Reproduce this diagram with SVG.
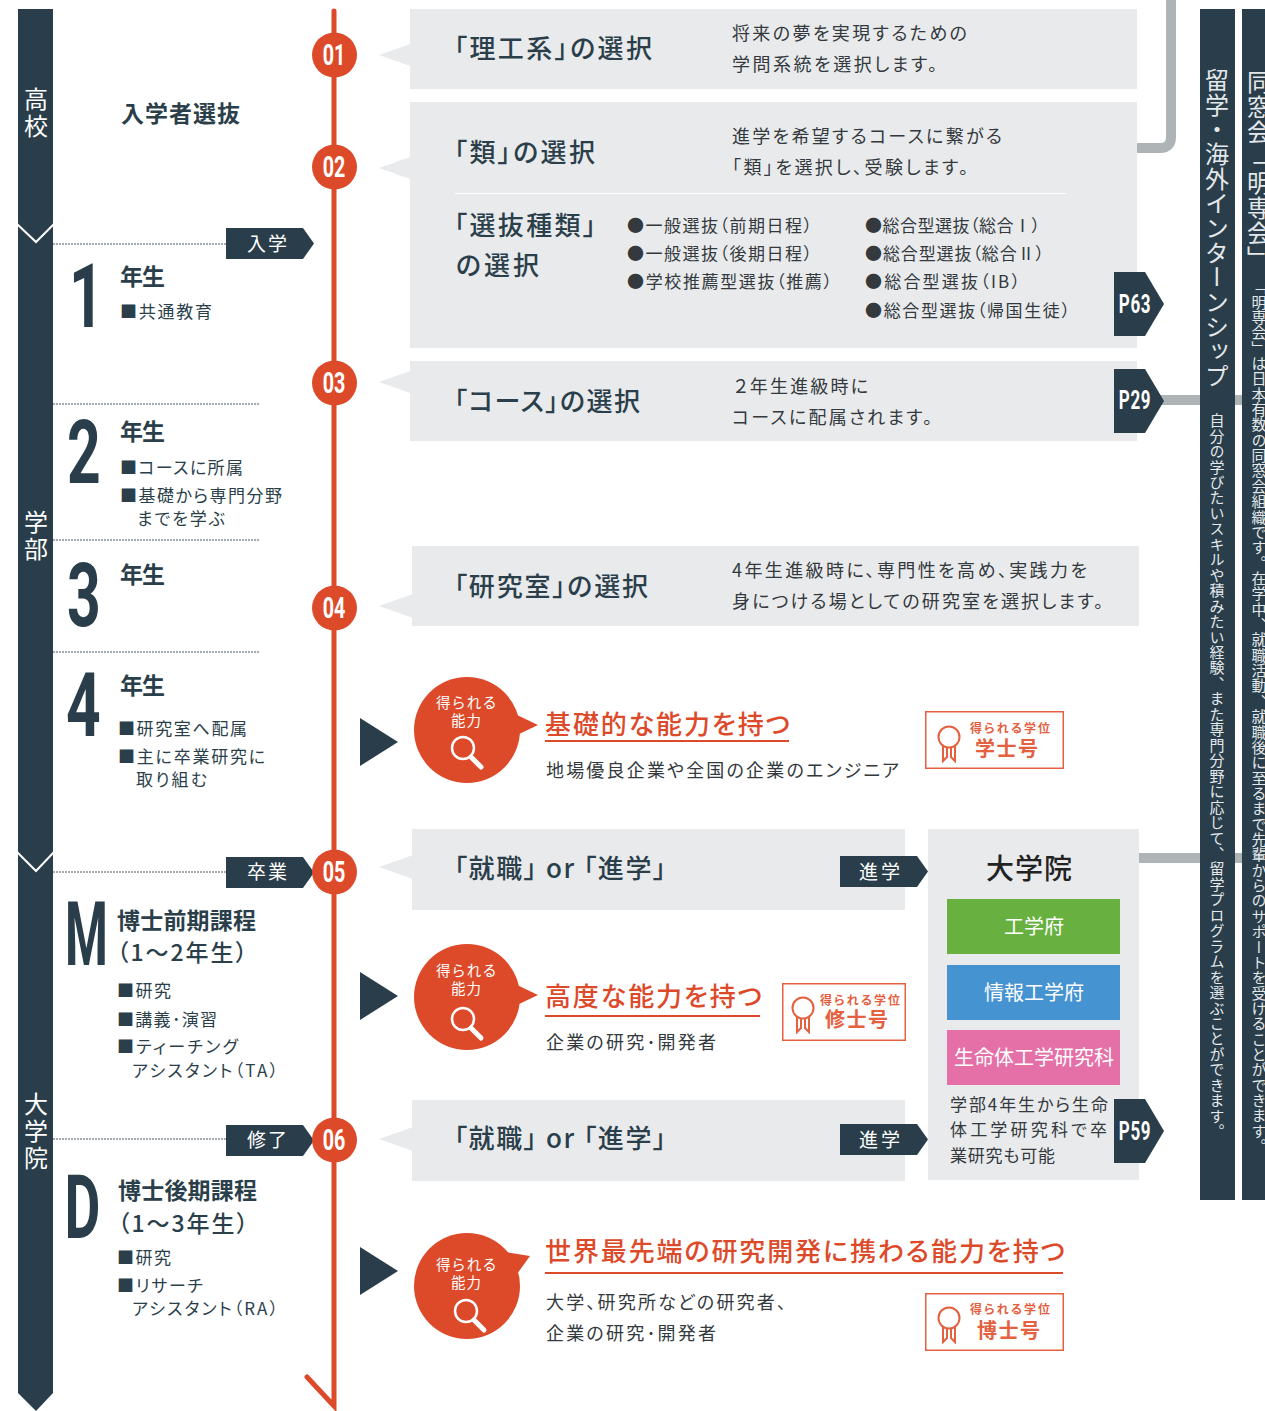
<svg xmlns="http://www.w3.org/2000/svg" width="1265" height="1411" viewBox="0 0 1265 1411">
<style>
text{font-family:"Noto Sans CJK JP","Noto Sans",sans-serif;fill:#2b3f4b;font-feature-settings:"palt"}
.panel{fill:#e9eaec}
.band{fill:#293e4a}
.h{font-size:26px;font-weight:500}
.d{font-size:18px;fill:#33393d}
.b{font-size:17px;fill:#33393d}
.y{font-size:23px;font-weight:700}
.y2{font-size:23px;font-weight:500}
.item{font-size:17px}
.big{font-family:"Roboto","Liberation Sans",sans-serif;font-weight:700;font-size:89px;fill:#293e4a}
.num{font-family:"Roboto","Liberation Sans",sans-serif;font-weight:700;font-size:29px;fill:#fff;text-anchor:middle}
.tag{font-size:19px;fill:#fff}
.red{fill:#dd4a2a}
.hl{font-size:26px;font-weight:500;fill:#dd4a2a}
.ul{stroke:#dd4a2a;stroke-width:2;fill:none}
.dots{stroke:#4a5a64;stroke-width:1;stroke-dasharray:2 1;fill:none}
.vt{writing-mode:vertical-rl;fill:#e4e8ea;font-feature-settings:normal}
.stage{writing-mode:vertical-rl;fill:#fff;font-size:24px;letter-spacing:3px;font-feature-settings:normal}
.deg{fill:#fff;stroke:#e4603f;stroke-width:1.5}
.ic{fill:none;stroke:#e4603f;stroke-width:2}
.mag{fill:none;stroke:#fff;stroke-width:2.500}
.cap{font-size:14.500px;fill:#fff}
.dt{font-size:12px;font-weight:700;fill:#e4603f}
.dn{font-size:20px;font-weight:700;fill:#e4603f}
.p{font-family:"Roboto","Liberation Sans",sans-serif;font-weight:700;font-size:25px;fill:#fff;text-anchor:middle}
.mc{font-size:20px;fill:#fff;text-anchor:middle}
</style>
<defs>
<polygon id="ptr" points="0,0 34,-12 34,12" fill="#e9eaec"/>
<polygon id="tri" points="0,-24 38,0 0,24" fill="#293e4a"/>
<g id="mag"><circle cx="0" cy="0" r="11" class="mag"/><path d="M8 9L18 19" stroke="#fff" stroke-width="5" stroke-linecap="round"/></g>
<g id="medal"><circle cx="0" cy="0" r="10.500" class="ic"/><path d="M-6 9V24L-2 20V11M2 11V20L6 24V9" class="ic" stroke-width="1.500"/></g>
<polygon id="tag" points="0,0 77,0 88,15.500 77,31 0,31" fill="#293e4a"/>
<polygon id="ptag" points="0,0 31,0 50,32 31,64 0,64" fill="#293e4a"/>
</defs>

<g id="connectors">
<path d="M1137 148H1160Q1171 148 1171 137V0" fill="none" stroke="#aeb3b6" stroke-width="10"/>
<path d="M1160 400H1265M1139 858H1265" fill="none" stroke="#aeb3b6" stroke-width="10"/>
<path d="M334 11V1406L307 1377" fill="none" stroke="#dd4a2a" stroke-width="5" stroke-linecap="round"/>
<path class="dots" d="M53 244H226M53 404H259M53 540H259M53 652H259M53 872H226M53 1139H226"/>
</g>

<g id="stage-band">
<polygon class="band" points="18,9 53,9 53,1393 36,1411 18,1393"/>
<polyline points="17,224 36,242 54,224" fill="none" stroke="#fff" stroke-width="2"/>
<polyline points="17,852 36,871 54,852" fill="none" stroke="#fff" stroke-width="2"/>
<text class="stage" x="36" y="87">高校</text>
<text class="stage" x="36" y="510">学部</text>
<text class="stage" x="36" y="1092">大学院</text>
</g>

<g id="years">
<text class="y" x="121" y="122" textLength="119">入学者選抜</text>
<g id="year1">
<text class="big" transform="translate(69 327) scale(.68 1)">1</text>
<text class="y" x="120" y="285" textLength="45">年生</text>
<text class="item" x="120" y="318" textLength="92">■共通教育</text>
</g>
<g id="year2">
<text class="big" transform="translate(67 483) scale(.66 1)">2</text>
<text class="y" x="120" y="440" textLength="45">年生</text>
<text class="item" x="120" y="474" textLength="123">■コースに所属</text>
<text class="item" x="120" y="502" textLength="162">■基礎から専門分野</text>
<text class="item" x="137" y="525" textLength="88">までを学ぶ</text>
</g>
<g id="year3">
<text class="big" transform="translate(67 626) scale(.66 1)">3</text>
<text class="y" x="120" y="583" textLength="45">年生</text>
</g>
<g id="year4">
<text class="big" transform="translate(66 736) scale(.68 1)">4</text>
<text class="y" x="120" y="694" textLength="45">年生</text>
<text class="item" x="118" y="735" textLength="129">■研究室へ配属</text>
<text class="item" x="118" y="763" textLength="147">■主に卒業研究に</text>
<text class="item" x="136" y="786" textLength="71">取り組む</text>
</g>
<g id="master">
<text class="big" transform="translate(65 965) scale(.55 1)">M</text>
<text class="y" x="117" y="929" textLength="139">博士前期課程</text>
<text class="y2" x="117" y="961" textLength="130">（1～2年生）</text>
<text class="item" x="117" y="997" textLength="54">■研究</text>
<text class="item" x="117" y="1026" textLength="100">■講義･演習</text>
<text class="item" x="117" y="1053" textLength="121">■ティーチング</text>
<text class="item" x="132" y="1077" textLength="146">アシスタント（TA）</text>
</g>
<g id="doctor">
<text class="big" transform="translate(64.500 1238) scale(.62 1)">D</text>
<text class="y" x="118" y="1199" textLength="139">博士後期課程</text>
<text class="y2" x="118" y="1232" textLength="130">（1～3年生）</text>
<text class="item" x="117" y="1264" textLength="54">■研究</text>
<text class="item" x="117" y="1292" textLength="86">■リサーチ</text>
<text class="item" x="132" y="1315" textLength="146">アシスタント（RA）</text>
</g>
</g>

<g id="tag-entry"><use href="#tag" x="226" y="228"/><text class="tag" x="247" y="251" textLength="40">入学</text></g>
<g id="tag-grad"><use href="#tag" x="226" y="857"/><text class="tag" x="247" y="879" textLength="40">卒業</text></g>
<g id="tag-finish"><use href="#tag" x="226" y="1125"/><text class="tag" x="247" y="1147" textLength="40">修了</text></g>

<g id="step01"><circle class="red" cx="334.500" cy="55" r="22.500"/><text class="num" transform="translate(334 65) scale(.68 1)">01</text></g>
<g id="step02"><circle class="red" cx="334.500" cy="167" r="22.500"/><text class="num" transform="translate(334 177) scale(.68 1)">02</text></g>
<g id="step03"><circle class="red" cx="334.500" cy="383" r="22.500"/><text class="num" transform="translate(334 393) scale(.68 1)">03</text></g>
<g id="step04"><circle class="red" cx="334.500" cy="608" r="22.500"/><text class="num" transform="translate(334 618) scale(.68 1)">04</text></g>
<g id="step05"><circle class="red" cx="334.500" cy="872" r="22.500"/><text class="num" transform="translate(334 882) scale(.68 1)">05</text></g>
<g id="step06"><circle class="red" cx="334.500" cy="1140" r="22.500"/><text class="num" transform="translate(334 1150) scale(.68 1)">06</text></g>

<g id="panel01">
<use href="#ptr" x="379" y="55"/><rect class="panel" x="410" y="9" width="727" height="80"/>
<text class="h" x="454" y="58" textLength="198">「理工系」の選択</text>
<text class="d" x="732" y="40" textLength="235">将来の夢を実現するための</text>
<text class="d" x="732" y="71" textLength="205">学問系統を選択します。</text>
</g>
<g id="panel02">
<use href="#ptr" x="379" y="168"/><rect class="panel" x="410" y="102" width="727" height="246"/>
<text class="h" x="454" y="162" textLength="141">「類」の選択</text>
<text class="d" x="732" y="143" textLength="270">進学を希望するコースに繋がる</text>
<text class="d" x="732" y="174" textLength="236">「類」を選択し、受験します。</text>
<path d="M455 193.500H1066" stroke="#fff" stroke-width="1"/>
<text class="h" x="454" y="235" textLength="142">「選抜種類」</text>
<text class="h" x="456" y="275" textLength="83">の選択</text>
<text class="b" x="627" y="232" textLength="185">●一般選抜（前期日程）</text>
<text class="b" x="627" y="260" textLength="185">●一般選抜（後期日程）</text>
<text class="b" x="627" y="288" textLength="205">●学校推薦型選抜（推薦）</text>
<text class="b" x="865" y="232" textLength="175">●総合型選抜（総合Ⅰ）</text>
<text class="b" x="865" y="260" textLength="179">●総合型選抜（総合Ⅱ）</text>
<text class="b" x="865" y="288" textLength="155">●総合型選抜（IB）</text>
<text class="b" x="865" y="317" textLength="205">●総合型選抜（帰国生徒）</text>
</g>
<g id="tag-p63"><use href="#ptag" x="1114" y="272"/><text class="p" transform="translate(1135 313) scale(.68 1)" letter-spacing="1">P63</text></g>
<g id="panel03">
<use href="#ptr" x="379" y="382"/><rect class="panel" x="410" y="361" width="727" height="80"/>
<text class="h" x="454" y="411" textLength="186">「コース」の選択</text>
<text class="d" x="734" y="393" textLength="134">２年生進級時に</text>
<text class="d" x="732" y="424" textLength="200">コースに配属されます。</text>
</g>
<g id="tag-p29"><use href="#ptag" x="1114" y="369"/><text class="p" transform="translate(1135 409) scale(.68 1)" letter-spacing="1">P29</text></g>
<g id="panel04">
<use href="#ptr" x="379" y="606"/><rect class="panel" x="412" y="546" width="727" height="80"/>
<text class="h" x="454" y="596" textLength="194">「研究室」の選択</text>
<text class="d" x="732" y="577" textLength="355">4年生進級時に、専門性を高め、実践力を</text>
<text class="d" x="732" y="608" textLength="371">身につける場としての研究室を選択します。</text>
</g>
<g id="panel05">
<use href="#ptr" x="379" y="867"/><rect class="panel" x="412" y="829" width="493" height="81"/>
<text class="h" x="454" y="878" textLength="212">「就職」 or 「進学」</text>
</g>
<g id="panel06">
<use href="#ptr" x="379" y="1139"/><rect class="panel" x="412" y="1100" width="493" height="81"/>
<text class="h" x="454" y="1148" textLength="212">「就職」 or 「進学」</text>
</g>

<g id="grad-school">
<rect class="panel" x="928" y="829" width="211" height="351"/>
<text x="986" y="879" textLength="86" style="font-size:28px;font-weight:500;fill:#222">大学院</text>
<rect x="947" y="899" width="173" height="55" fill="#68b03f"/><text class="mc" x="1034" y="934">工学府</text>
<rect x="947" y="965" width="173" height="55" fill="#4693d2"/><text class="mc" x="1034" y="1000">情報工学府</text>
<rect x="947" y="1030" width="173" height="55" fill="#e56fa7"/><text class="mc" x="1034" y="1065">生命体工学研究科</text>
<text class="b" x="950" y="1111" textLength="158">学部4年生から生命</text>
<text class="b" x="950" y="1136" textLength="157">体工学研究科で卒</text>
<text class="b" x="950" y="1162" textLength="105">業研究も可能</text>
</g>
<g id="tag-susumu1"><use href="#tag" x="840" y="856"/><text class="tag" x="859" y="879" textLength="41">進学</text></g>
<g id="tag-susumu2"><use href="#tag" x="840" y="1124"/><text class="tag" x="859" y="1147" textLength="41">進学</text></g>
<g id="tag-p59"><use href="#ptag" x="1114" y="1099"/><text class="p" transform="translate(1135 1140) scale(.68 1)" letter-spacing="1">P59</text></g>

<g id="ability1">
<use href="#tri" x="360" y="742"/>
<circle class="red" cx="467" cy="730" r="53"/><polygon class="red" points="515,714 538,725 515,736"/>
<text class="cap" x="436" y="708" textLength="60">得られる</text><text class="cap" x="451" y="726" textLength="30">能力</text>
<use href="#mag" x="463" y="748"/>
<text class="hl" x="545" y="734" textLength="245">基礎的な能力を持つ</text>
<path class="ul" d="M545 741H789"/>
<text class="d" x="546" y="777" textLength="353">地場優良企業や全国の企業のエンジニア</text>
<rect class="deg" x="925.750" y="711.750" width="137.500" height="56.500"/>
<use href="#medal" x="949" y="737"/>
<text class="dt" x="970" y="733" textLength="80">得られる学位</text>
<text class="dn" x="975" y="756" textLength="63">学士号</text>
</g>
<g id="ability2">
<use href="#tri" x="360" y="996"/>
<circle class="red" cx="467" cy="997" r="53"/><polygon class="red" points="515,984 538,995 515,1006"/>
<text class="cap" x="436" y="976" textLength="60">得られる</text><text class="cap" x="451" y="994" textLength="30">能力</text>
<use href="#mag" x="463" y="1019"/>
<text class="hl" x="545" y="1006" textLength="217">高度な能力を持つ</text>
<path class="ul" d="M545 1016H760"/>
<text class="d" x="546" y="1049" textLength="170">企業の研究･開発者</text>
<rect class="deg" x="782.750" y="983.750" width="122.500" height="56.500"/>
<use href="#medal" x="803" y="1008"/>
<text class="dt" x="820" y="1005" textLength="80">得られる学位</text>
<text class="dn" x="825" y="1027" textLength="63">修士号</text>
</g>
<g id="ability3">
<use href="#tri" x="360" y="1271"/>
<circle class="red" cx="467" cy="1286" r="53"/><polygon class="red" points="505,1252 530,1256 517,1274"/>
<text class="cap" x="436" y="1270" textLength="60">得られる</text><text class="cap" x="451" y="1288" textLength="30">能力</text>
<use href="#mag" x="466" y="1311"/>
<text class="hl" x="545" y="1261" textLength="520">世界最先端の研究開発に携わる能力を持つ</text>
<path class="ul" d="M545 1273H1063"/>
<text class="d" x="546" y="1309" textLength="240">大学、研究所などの研究者、</text>
<text class="d" x="546" y="1340" textLength="170">企業の研究･開発者</text>
<rect class="deg" x="925.750" y="1293.750" width="137.500" height="56.500"/>
<use href="#medal" x="949" y="1318"/>
<text class="dt" x="970" y="1314" textLength="80">得られる学位</text>
<text class="dn" x="977" y="1338" textLength="63">博士号</text>
</g>

<g id="band-abroad">
<rect class="band" x="1200" y="9" width="35" height="1191"/>
<text class="vt" x="1217" y="68" textLength="320" style="font-size:24px">留学・海外インターンシップ</text>
<text class="vt" x="1217" y="413" textLength="726" style="font-size:15px">自分の学びたいスキルや積みたい経験、また専門分野に応じて、留学プログラムを選ぶことができます。</text>
</g>
<g id="band-alumni">
<rect class="band" x="1242" y="9" width="30" height="1191"/>
<text class="vt" x="1259" y="70" textLength="200" style="font-size:24px">同窓会「明専会」</text>
<text class="vt" x="1259" y="279" textLength="875" style="font-size:15px">「明専会」は日本有数の同窓会組織です。在学中、就職活動、就職後に至るまで先輩からのサポートを受けることができます。</text>
</g>
</svg>
